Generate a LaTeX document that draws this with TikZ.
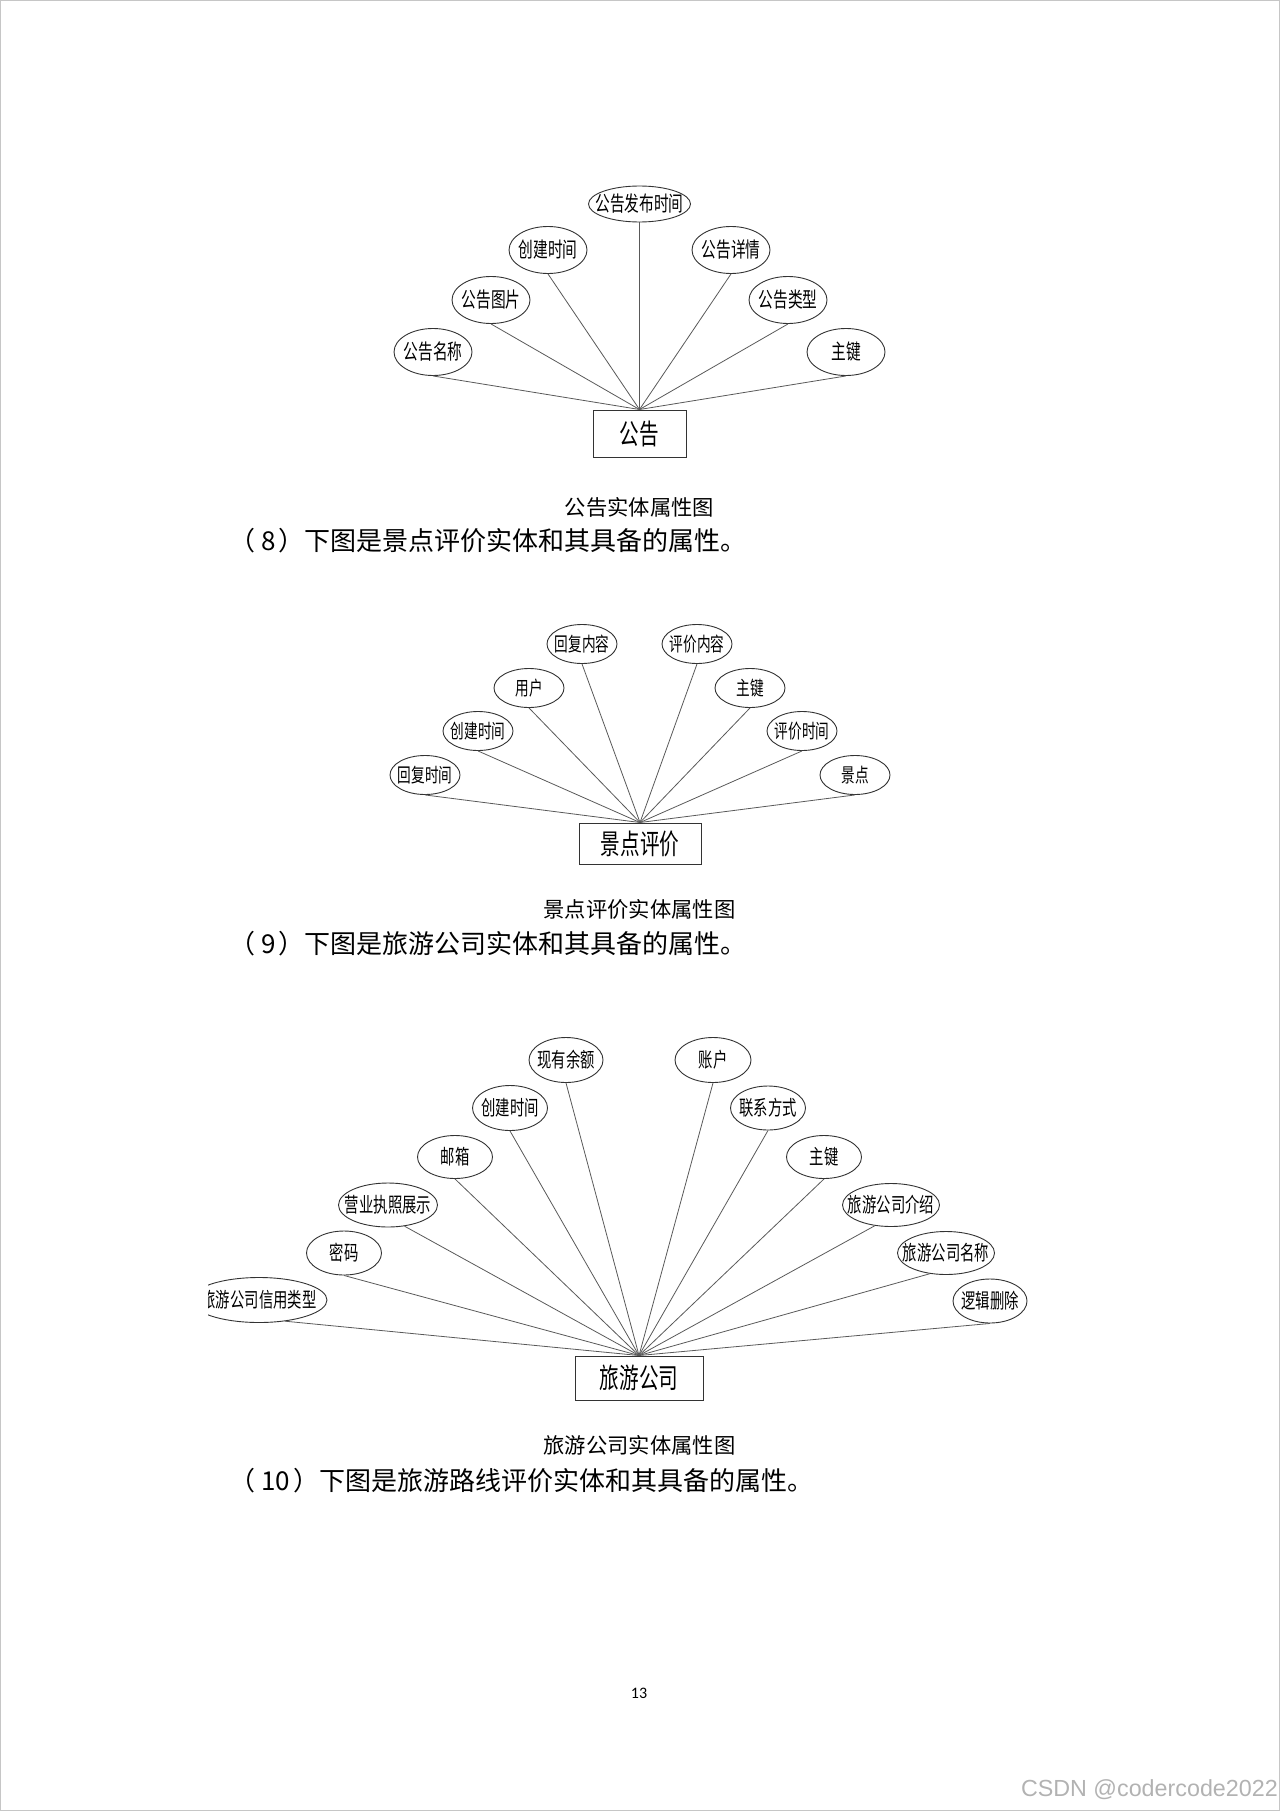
\documentclass[tikz,border=0pt]{standalone}
\usepackage{fontspec}
\setmainfont{Noto Sans CJK SC}
\newfontfamily\attrfont[FakeStretch=0.7]{Noto Sans CJK SC}
\newfontfamily\markfont{Liberation Sans}
\newfontfamily\pagefont{Carlito}
\usepackage{tikz}
\usetikzlibrary{shapes.geometric}
\newcommand{\attrtext}[1]{\makebox[0pt]{#1}}

\begin{document}
\begin{tikzpicture}[x=1pt,y=-1pt,
  attr/.style={draw=black!80,line width=0.9pt,ellipse,inner sep=0pt},
  attrgg/.style={attr,minimum width=78pt,minimum height=47pt,font=\attrfont\fontsize{21}{22}\selectfont},
  attrjd/.style={attr,minimum width=70pt,minimum height=39pt,font=\attrfont\fontsize{19.5}{20}\selectfont},
  attrly/.style={attr,minimum width=75pt,minimum height=44pt,font=\attrfont\fontsize{20.5}{21}\selectfont},
  ent/.style={draw=black!80,line width=1pt,rectangle,inner sep=0pt,font=\attrfont\fontsize{28}{29}\selectfont},
  link/.style={black!65,line width=0.8pt},
  caption/.style={inner sep=0pt,font=\fontsize{21.3}{22}\selectfont},
  body/.style={anchor=west,inner sep=0pt,font=\fontsize{26}{27}\selectfont}]
\useasboundingbox (0,0) rectangle (1280,1811);
\draw[gray!45] (0.5,0.5) rectangle (1279.5,1810.5);

% 公告
\node[ent,minimum width=93pt,minimum height=47pt] (gg) at (639.5,433.5) {公告};
\node[attrgg] (ggmc) at (433,352) {\attrtext{公告名称}};
\node[attrgg] (ggtp) at (491,300) {\attrtext{公告图片}};
\node[attrgg] (ggcj) at (548,250) {\attrtext{创建时间}};
\node[attrgg,minimum width=102pt,minimum height=36pt] (ggfb) at (639.5,204) {\attrtext{公告发布时间}};
\node[attrgg] (ggxq) at (731,250) {\attrtext{公告详情}};
\node[attrgg] (gglx) at (788,300) {\attrtext{公告类型}};
\node[attrgg] (ggzj) at (846,352) {\attrtext{主键}};
\draw[link] (gg.north) -- (ggmc.south);
\draw[link] (gg.north) -- (ggtp.south);
\draw[link] (gg.north) -- (ggcj.south);
\draw[link] (gg.north) -- (ggfb.south);
\draw[link] (gg.north) -- (ggxq.south);
\draw[link] (gg.north) -- (gglx.south);
\draw[link] (gg.north) -- (ggzj.south);
\node[caption] (capgg) at (639.5,507) {公告实体属性图};
\node[body] (txt8) at (229,541) {（\kern6pt 8\kern3pt）下图是景点评价实体和其具备的属性。};

% 景点评价
\node[ent,minimum width=122pt,minimum height=41pt] (jdpj) at (640,843.5) {景点评价};
\node[attrjd] (jdhfsj) at (425,775) {\attrtext{回复时间}};
\node[attrjd] (jdcjsj) at (478,731) {\attrtext{创建时间}};
\node[attrjd] (jdyh) at (529,688) {\attrtext{用户}};
\node[attrjd] (jdhfnr) at (582,644) {\attrtext{回复内容}};
\node[attrjd] (jdpjnr) at (697,644) {\attrtext{评价内容}};
\node[attrjd] (jdzj) at (750,688) {\attrtext{主键}};
\node[attrjd] (jdpjsj) at (802,731) {\attrtext{评价时间}};
\node[attrjd] (jdjd) at (855,775) {\attrtext{景点}};
\draw[link] (jdpj.north) -- (jdhfsj.south);
\draw[link] (jdpj.north) -- (jdcjsj.south);
\draw[link] (jdpj.north) -- (jdyh.south);
\draw[link] (jdpj.north) -- (jdhfnr.south);
\draw[link] (jdpj.north) -- (jdpjnr.south);
\draw[link] (jdpj.north) -- (jdzj.south);
\draw[link] (jdpj.north) -- (jdpjsj.south);
\draw[link] (jdpj.north) -- (jdjd.south);
\node[caption] (capjd) at (639.5,909) {景点评价实体属性图};
\node[body] (txt9) at (229,944) {（\kern6pt 9\kern3pt）下图是旅游公司实体和其具备的属性。};

% 旅游公司 (left edge cut off as in the source image)
\begin{scope}
\clip (208,1020) rectangle (1060,1420);
\node[ent,minimum width=128pt,minimum height=44pt] (ly) at (639,1378) {旅游公司};
\node[attrly,minimum width=74pt,minimum height=45pt] (lyye) at (566,1060) {\attrtext{现有余额}};
\node[attrly,minimum width=76pt,minimum height=45pt] (lyzh) at (713,1060) {\attrtext{账户}};
\node[attrly,minimum height=45pt] (lycj) at (510,1108) {\attrtext{创建时间}};
\node[attrly] (lylx) at (768,1108) {\attrtext{联系方式}};
\node[attrly,minimum height=43pt] (lyyx) at (455,1157) {\attrtext{邮箱}};
\node[attrly,minimum height=43pt] (lyzj) at (824,1157) {\attrtext{主键}};
\node[attrly,minimum width=99pt] (lyzz) at (388,1205) {\attrtext{营业执照展示}};
\node[attrly,minimum width=97pt,minimum height=43pt] (lyjs) at (891,1205) {\attrtext{旅游公司介绍}};
\node[attrly] (lymm) at (344,1253) {\attrtext{密码}};
\node[attrly,minimum width=97pt,minimum height=43pt] (lymc) at (946,1253) {\attrtext{旅游公司名称}};
\node[attrly,minimum width=136pt,minimum height=45pt] (lyxy) at (259,1300) {\attrtext{旅游公司信用类型}};
\node[attrly,minimum width=74pt] (lysc) at (990,1301) {\attrtext{逻辑删除}};
\draw[link] (ly.north) -- (lyxy.-39);
\draw[link] (ly.north) -- (lymm.south);
\draw[link] (ly.north) -- (lyzz.-52);
\draw[link] (ly.north) -- (lyyx.south);
\draw[link] (ly.north) -- (lycj.south);
\draw[link] (ly.north) -- (lyye.south);
\draw[link] (ly.north) -- (lyzh.south);
\draw[link] (ly.north) -- (lylx.south);
\draw[link] (ly.north) -- (lyzj.south);
\draw[link] (ly.north) -- (lyjs.-128);
\draw[link] (ly.north) -- (lymc.-128);
\draw[link] (ly.north) -- (lysc.south);
\end{scope}
\node[caption] (caply) at (639.5,1445) {旅游公司实体属性图};
\node[body] (txt10) at (229,1481) {（\kern6pt 10\kern3pt）下图是旅游路线评价实体和其具备的属性。};

\node[inner sep=0pt,font=\pagefont\fontsize{16}{17}\selectfont] (pageno) at (639,1693) {13};
\node[anchor=east,inner sep=0pt,text=black!30,font=\markfont\fontsize{23.3}{24}\selectfont] (mark) at (1278,1790) {CSDN @codercode2022};
\end{tikzpicture}
\end{document}
